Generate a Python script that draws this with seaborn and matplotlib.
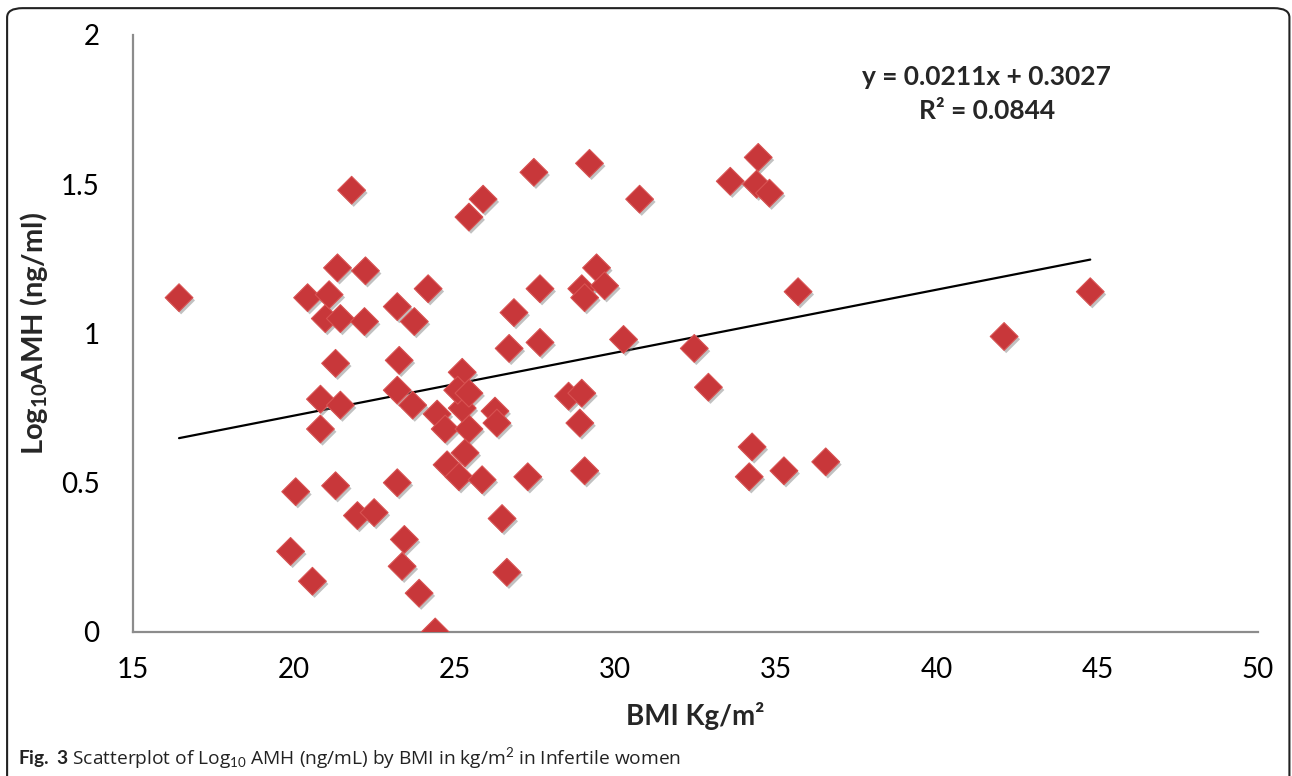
import numpy as np
import pandas as pd
import seaborn as sns
import matplotlib
matplotlib.use("Agg")
import matplotlib.pyplot as plt
import matplotlib.patheffects as pe
from matplotlib.patches import FancyBboxPatch

# ---------------- data ----------------
bmi = [16.43, 19.90, 20.06, 20.58, 20.43, 20.83, 20.83, 20.98, 21.10, 21.30,
       21.36, 21.30, 21.45, 21.45, 21.80, 21.98, 22.23, 22.20, 22.50, 23.22,
       23.28, 23.22, 23.22, 23.44, 23.37, 23.75, 23.70, 23.90, 24.18, 24.40,
       24.46, 24.71, 24.77, 25.14, 25.33, 25.45, 25.24, 25.24, 25.10, 25.45,
       25.86, 26.26, 26.32, 26.48, 26.63, 27.28, 26.70, 26.85, 27.66, 27.66,
       27.47, 25.45, 25.89, 29.20, 28.55, 28.96, 28.90, 29.05, 28.96, 29.05,
       29.42, 29.67, 30.26, 30.76, 32.46, 32.90, 33.58, 34.45, 34.40, 34.80,
       34.26, 34.17, 35.25, 35.69, 36.55, 42.10, 44.78]
log_amh = [1.12, 0.27, 0.47, 0.17, 1.12, 0.78, 0.68, 1.05, 1.13, 0.90,
           1.22, 0.49, 0.76, 1.05, 1.48, 0.39, 1.21, 1.04, 0.40, 1.09,
           0.91, 0.50, 0.81, 0.31, 0.22, 1.04, 0.76, 0.13, 1.15, 0.00,
           0.73, 0.68, 0.56, 0.52, 0.60, 0.68, 0.75, 0.87, 0.81, 0.80,
           0.51, 0.74, 0.70, 0.38, 0.20, 0.52, 0.95, 1.07, 0.97, 1.15,
           1.54, 1.39, 1.45, 1.57, 0.79, 0.80, 0.70, 0.54, 1.15, 1.12,
           1.22, 1.16, 0.98, 1.45, 0.95, 0.82, 1.51, 1.59, 1.50, 1.47,
           0.62, 0.52, 0.54, 1.14, 0.57, 0.99, 1.14]

# trendline as printed on the chart
slope = 0.0211
intercept = 0.3027
r2 = 0.0844

x_ticks = [15, 20, 25, 30, 35, 40, 45, 50]
y_ticks = [0, 0.5, 1, 1.5, 2]

df = pd.DataFrame({"BMI": bmi, "LogAMH": log_amh})

# ---------------- style ----------------
sns.set_theme(style="white")
plt.rcParams["font.family"] = ["Lato", "DejaVu Sans"]
plt.rcParams["mathtext.fontset"] = "custom"
plt.rcParams["mathtext.rm"] = "Lato"
plt.rcParams["mathtext.bf"] = "Lato:bold"
plt.rcParams["mathtext.it"] = "Lato:italic"

fig = plt.figure(figsize=(12.92, 7.76), dpi=100)
ax = fig.add_axes([0.103, 0.1856, 0.8707, 0.7693])

point_color = "#C8373A"
sns.scatterplot(data=df, x="BMI", y="LogAMH", marker="D", s=200,
                color=point_color, edgecolor="#D85252", linewidth=0.8,
                ax=ax, zorder=3, legend=False)
ax.collections[0].set_path_effects([
    pe.SimplePatchShadow(offset=(1.5, -2), shadow_rgbFace="#777777", alpha=0.45),
    pe.Normal()])

# linear trendline over the data range
xs = np.array([min(bmi), max(bmi)])
ax.plot(xs, slope * xs + intercept, color="black", lw=1.6, zorder=2)

ax.set_xlim(15, 50)
ax.set_ylim(0, 2)
ax.set_xticks(x_ticks)
ax.set_xticklabels([str(t) for t in x_ticks])
ax.set_yticks(y_ticks)
ax.set_yticklabels(["0", "0.5", "1", "1.5", "2"])

for side in ["top", "right"]:
    ax.spines[side].set_visible(False)
for side in ["left", "bottom"]:
    ax.spines[side].set_color("#8C8C8C")
    ax.spines[side].set_linewidth(1.6)
ax.tick_params(axis="both", direction="out", length=6, width=1.6,
               color="#8C8C8C", labelsize=20, labelcolor="black", pad=8)
ax.tick_params(axis="y", pad=18)
ax.tick_params(axis="x", pad=12)

ax.set_xlabel("BMI Kg/m²", fontsize=20, fontweight="bold", labelpad=14)
ax.set_ylabel(r"Log$_\mathbf{10}$AMH (ng/ml)", fontsize=21, fontweight="bold",
              labelpad=8)

ax.text(0.759, 0.93, f"y = {slope}x + {intercept}", transform=ax.transAxes,
        ha="center", va="center", fontsize=19, fontweight="bold")
ax.text(0.759, 0.872, f"R² = {r2}", transform=ax.transAxes,
        ha="center", va="center", fontsize=19, fontweight="bold")

# caption
fig.text(0.014, 0.023,
         r"$\mathbf{Fig.\ 3}$ Scatterplot of Log$_{10}$ AMH (ng/mL) by BMI in kg/m$^{2}$ in Infertile women",
         fontsize=13.8, ha="left", va="center", color="#222222",
         family=["Open Sans", "DejaVu Sans"])

# rounded frame around the figure
frame = FancyBboxPatch((0.0055, -0.02), 0.9925, 1.0095,
                       boxstyle="round,pad=0,rounding_size=0.012",
                       transform=fig.transFigure, fill=False,
                       edgecolor="#222222", linewidth=1.5)
fig.patches.append(frame)

fig.savefig("out.png", dpi=100)
